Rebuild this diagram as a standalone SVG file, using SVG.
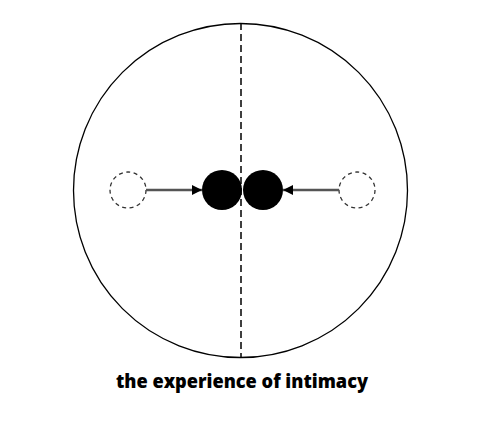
<svg xmlns="http://www.w3.org/2000/svg" width="486" height="424" viewBox="0 0 486 424">
<style>
.ghost{fill:#fff;stroke:#333;stroke-width:1.3;stroke-dasharray:4 3.5}
.person{fill:#000}
.conn{stroke:#555;stroke-width:2.4;fill:none}
.label{font-family:"Open Sans",sans-serif;font-weight:800;font-size:19px;fill:#000}
</style>
<defs>
<marker id="arr" markerWidth="10" markerHeight="10" refX="10" refY="5" orient="auto" markerUnits="userSpaceOnUse">
<path d="M0,0 L10,5 L0,10 Z" fill="#000"/>
</marker>
</defs>
<rect width="486" height="424" fill="#fff"/>
<g id="boundary">
<circle cx="240.5" cy="190.5" r="167" fill="none" stroke="#000" stroke-width="1.3"/>
</g>
<g id="divider">
<line x1="241" y1="23" x2="241" y2="358" stroke="#000" stroke-width="1.5" stroke-dasharray="7 4"/>
</g>
<g id="left-ghost"><circle class="ghost" cx="128" cy="190" r="18"/></g>
<g id="right-ghost"><circle class="ghost" cx="357" cy="190" r="18"/></g>
<g id="left-person"><circle class="person" cx="222" cy="190" r="20"/></g>
<g id="right-person"><circle class="person" cx="263" cy="190" r="20"/></g>
<g id="connectors">
<line class="conn" x1="146" y1="190" x2="202" y2="190" marker-end="url(#arr)"/>
<line class="conn" x1="339" y1="190" x2="283" y2="190" marker-end="url(#arr)"/>
</g>
<g id="caption">
<text class="label" x="242" y="388" text-anchor="middle" textLength="252" lengthAdjust="spacingAndGlyphs">the experience of intimacy</text>
</g>
</svg>
